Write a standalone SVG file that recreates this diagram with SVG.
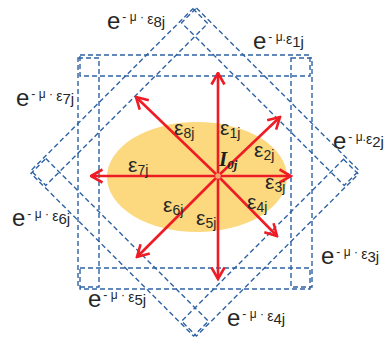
<svg xmlns="http://www.w3.org/2000/svg" width="387" height="338" viewBox="0 0 387 338">
  <style>
    .band { fill: none; stroke: #2f63a3; stroke-width: 1.4; stroke-dasharray: 5 3; }
    .arrow { stroke: #ee1c25; stroke-width: 2.6; fill: none; marker-end: url(#head); }
    .lbl { font-family: "Liberation Sans", "DejaVu Sans", sans-serif; fill: #262626; }
    .big { font-size: 24px; }
    .s1 { font-size: 12px; }
    .s2 { font-size: 14px; }
    .s3 { font-size: 15px; }
    .eps { font-size: 21px; }
    .sub { font-size: 14px; }
    .I { font-family: "Liberation Serif", "DejaVu Serif", serif; font-weight: bold; font-style: italic; fill: #1e1e1e; }
  </style>
  <defs>
    <marker id="head" viewBox="0 0 14 16" refX="12.5" refY="8" markerWidth="14" markerHeight="16" markerUnits="userSpaceOnUse" orient="auto">
      <path d="M1,1.5 L12.5,8 L1,14.5" fill="none" stroke="#ee1c25" stroke-width="2.6"/>
    </marker>
    <g id="frame">
      <rect class="band" x="-115" y="-117" width="230" height="21"/>
      <rect class="band" x="-115" y="96" width="230" height="21"/>
      <rect class="band" x="-117" y="-114" width="21" height="229"/>
      <rect class="band" x="96" y="-114" width="21" height="229"/>
    </g>
  </defs>

  <g id="square-frame">
    <use href="#frame" transform="translate(195 172)"/>
  </g>
  <g id="diamond-frame">
    <use href="#frame" transform="translate(195 172) rotate(45)"/>
  </g>

  <g id="ellipse-node">
    <ellipse cx="197" cy="177" rx="90" ry="55" fill="#fcd87e"/>
  </g>

  <g id="connectors">
    <line class="arrow" x1="218" y1="176" x2="218" y2="73"/>
    <line class="arrow" x1="218" y1="176" x2="280" y2="117"/>
    <line class="arrow" x1="218" y1="176" x2="291" y2="176"/>
    <line class="arrow" x1="218" y1="176" x2="277" y2="236"/>
    <line class="arrow" x1="218" y1="176" x2="218" y2="279"/>
    <line class="arrow" x1="218" y1="176" x2="137" y2="257"/>
    <line class="arrow" x1="218" y1="176" x2="91" y2="176"/>
    <line class="arrow" x1="218" y1="176" x2="136" y2="97"/>
  </g>

  <g id="source-node">
    <circle cx="218" cy="176" r="3" fill="#f7a36c" stroke="#ee1c25" stroke-width="1" stroke-dasharray="1 1"/>
    <text class="I" x="219" y="166" font-size="21">I<tspan font-size="13" dy="3">0j</tspan></text>
  </g>

  <g id="eps-labels" class="lbl">
    <text x="174" y="135"><tspan class="eps">ε</tspan><tspan class="sub" dy="3">8j</tspan></text>
    <text x="220" y="135"><tspan class="eps">ε</tspan><tspan class="sub" dy="3">1j</tspan></text>
    <text x="254" y="157"><tspan class="eps">ε</tspan><tspan class="sub" dy="3">2j</tspan></text>
    <text x="128" y="172"><tspan class="eps">ε</tspan><tspan class="sub" dy="3">7j</tspan></text>
    <text x="265" y="189"><tspan class="eps">ε</tspan><tspan class="sub" dy="3">3j</tspan></text>
    <text x="247" y="209"><tspan class="eps">ε</tspan><tspan class="sub" dy="3">4j</tspan></text>
    <text x="163" y="212"><tspan class="eps">ε</tspan><tspan class="sub" dy="3">6j</tspan></text>
    <text x="196" y="225"><tspan class="eps">ε</tspan><tspan class="sub" dy="3">5j</tspan></text>
  </g>

  <g id="attenuation-labels" class="lbl">
    <text x="107" y="29"><tspan class="big">e</tspan><tspan class="s1" dx="2" dy="-8">- μ · </tspan><tspan class="s2" dy="3">ε</tspan><tspan class="s3" dy="3">8j</tspan></text>
    <text x="253" y="49"><tspan class="big">e</tspan><tspan class="s1" dx="2" dy="-8">- μ.</tspan><tspan class="s2" dy="3">ε</tspan><tspan class="s3" dy="3">1j</tspan></text>
    <text x="16" y="106"><tspan class="big">e</tspan><tspan class="s1" dx="2" dy="-8">- μ · </tspan><tspan class="s2" dy="3">ε</tspan><tspan class="s3" dy="3">7j</tspan></text>
    <text x="333" y="149"><tspan class="big">e</tspan><tspan class="s1" dx="2" dy="-8">- μ.</tspan><tspan class="s2" dy="3">ε</tspan><tspan class="s3" dy="3">2j</tspan></text>
    <text x="12" y="226"><tspan class="big">e</tspan><tspan class="s1" dx="2" dy="-8">- μ · </tspan><tspan class="s2" dy="3">ε</tspan><tspan class="s3" dy="3">6j</tspan></text>
    <text x="321" y="264"><tspan class="big">e</tspan><tspan class="s1" dx="2" dy="-8">- μ · </tspan><tspan class="s2" dy="3">ε</tspan><tspan class="s3" dy="3">3j</tspan></text>
    <text x="88" y="307"><tspan class="big">e</tspan><tspan class="s1" dx="2" dy="-8">- μ · </tspan><tspan class="s2" dy="3">ε</tspan><tspan class="s3" dy="3">5j</tspan></text>
    <text x="227" y="326"><tspan class="big">e</tspan><tspan class="s1" dx="2" dy="-8">- μ · </tspan><tspan class="s2" dy="3">ε</tspan><tspan class="s3" dy="3">4j</tspan></text>
  </g>
</svg>
